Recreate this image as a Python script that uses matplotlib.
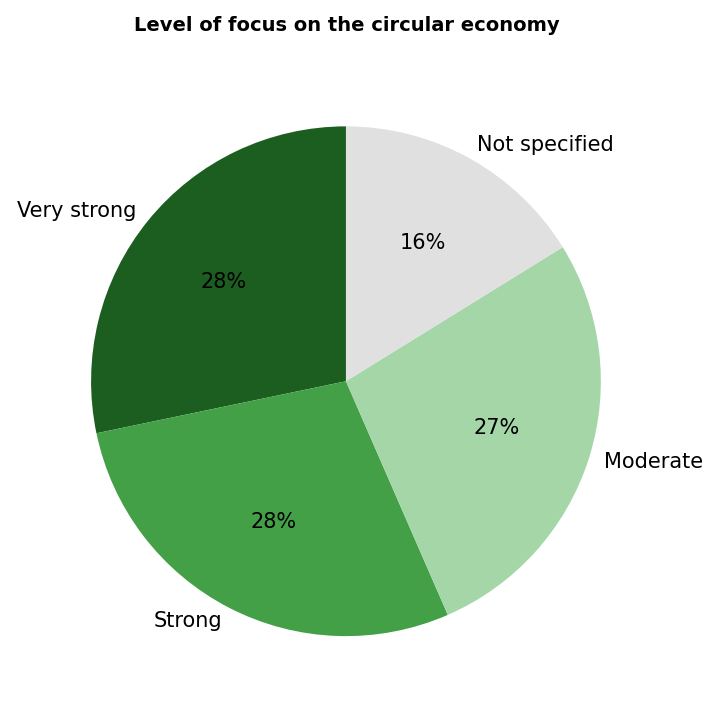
import matplotlib
matplotlib.use("Agg")
import matplotlib.pyplot as plt

# Share of responses by level of focus
labels = ["Very strong", "Strong", "Moderate", "Not specified"]
shares = [28.3, 28.3, 27.3, 16.2]
colors = ["#1b5e20", "#43a047", "#a5d6a7", "#e0e0e0"]

fig = plt.figure(figsize=(7.2, 7.2), dpi=100)
ax = fig.add_axes([0.038, 0.028, 0.885, 0.885])
ax.pie(shares, labels=labels, colors=colors, autopct="%1.0f%%",
       startangle=90, labeldistance=1.06, pctdistance=0.62,
       textprops={"fontsize": 15})
ax.set_aspect("equal")
fig.text(0.481, 0.964, "Level of focus on the circular economy",
         ha="center", va="center", fontsize=14, fontweight="bold")
plt.savefig("out.png")
